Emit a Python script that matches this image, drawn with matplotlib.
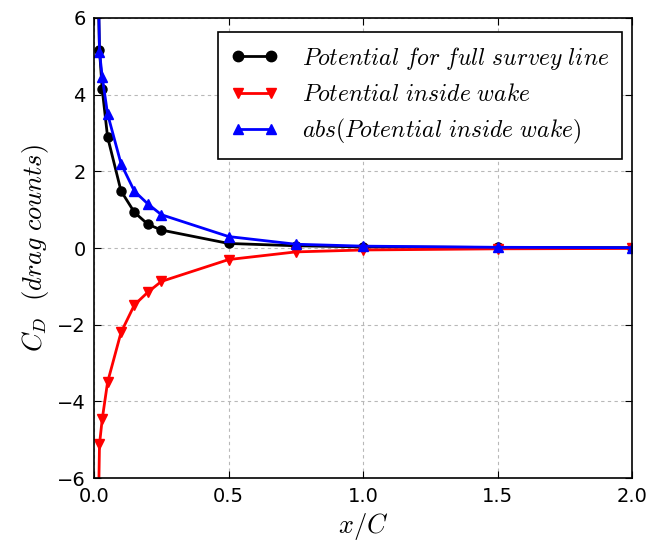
import matplotlib
matplotlib.use("Agg")
import matplotlib.pyplot as plt

plt.rcParams['mathtext.fontset'] = 'cm'
plt.rcParams['font.family'] = 'DejaVu Sans'

x_c = [0.01, 0.02, 0.03, 0.05, 0.1, 0.15, 0.2, 0.25, 0.5, 0.75, 1.0, 1.5, 2.0]
full_line = [8.5, 5.17, 4.15, 2.90, 1.49, 0.93, 0.62, 0.47, 0.12, 0.06, 0.03, 0.015, 0.01]
inside_wake = [-9.5, -5.12, -4.47, -3.50, -2.20, -1.48, -1.15, -0.87, -0.30, -0.10, -0.05, -0.02, -0.01]
abs_wake = [abs(v) for v in inside_wake]

fig = plt.figure(figsize=(6.49, 5.44), dpi=100)
ax = fig.add_axes([0.145, 0.121, 0.829, 0.846])

ax.plot(x_c, full_line, '-o', color='black', lw=2, ms=6.5,
        label=r'$Potential\ for\ full\ survey\ line$')
ax.plot(x_c, inside_wake, '-v', color='red', lw=2, ms=6.5, mec='red',
        label=r'$Potential\ inside\ wake$')
ax.plot(x_c, abs_wake, '-^', color='blue', lw=2, ms=6.5, mec='blue',
        label=r'$abs(Potential\ inside\ wake)$')

ax.set_xlim(0, 2.0)
ax.set_ylim(-6, 6)
ax.set_xticks([0.0, 0.5, 1.0, 1.5, 2.0])
ax.set_yticks([-6, -4, -2, 0, 2, 4, 6])
ax.grid(True, ls=(0, (3, 3)), color='#b8b8b8', lw=0.8)
ax.tick_params(direction='in', labelsize=14, top=True, right=True, length=5, pad=6)
for s in ax.spines.values():
    s.set_linewidth(1.2)

ax.set_xlabel(r'$x/C$', fontsize=19)
ax.set_ylabel(r'$C_D\ \ (drag\ counts)$', fontsize=19)

leg = ax.legend(loc='upper right', fontsize=17, fancybox=False, framealpha=1,
                edgecolor='black', numpoints=2, handlelength=2.0,
                borderpad=0.55, labelspacing=0.45, handletextpad=1.0,
                markerscale=1.15, borderaxespad=0,
                bbox_to_anchor=(0.981, 0.970))
leg.get_frame().set_linewidth(1.2)

fig.savefig('out.png', dpi=100)
